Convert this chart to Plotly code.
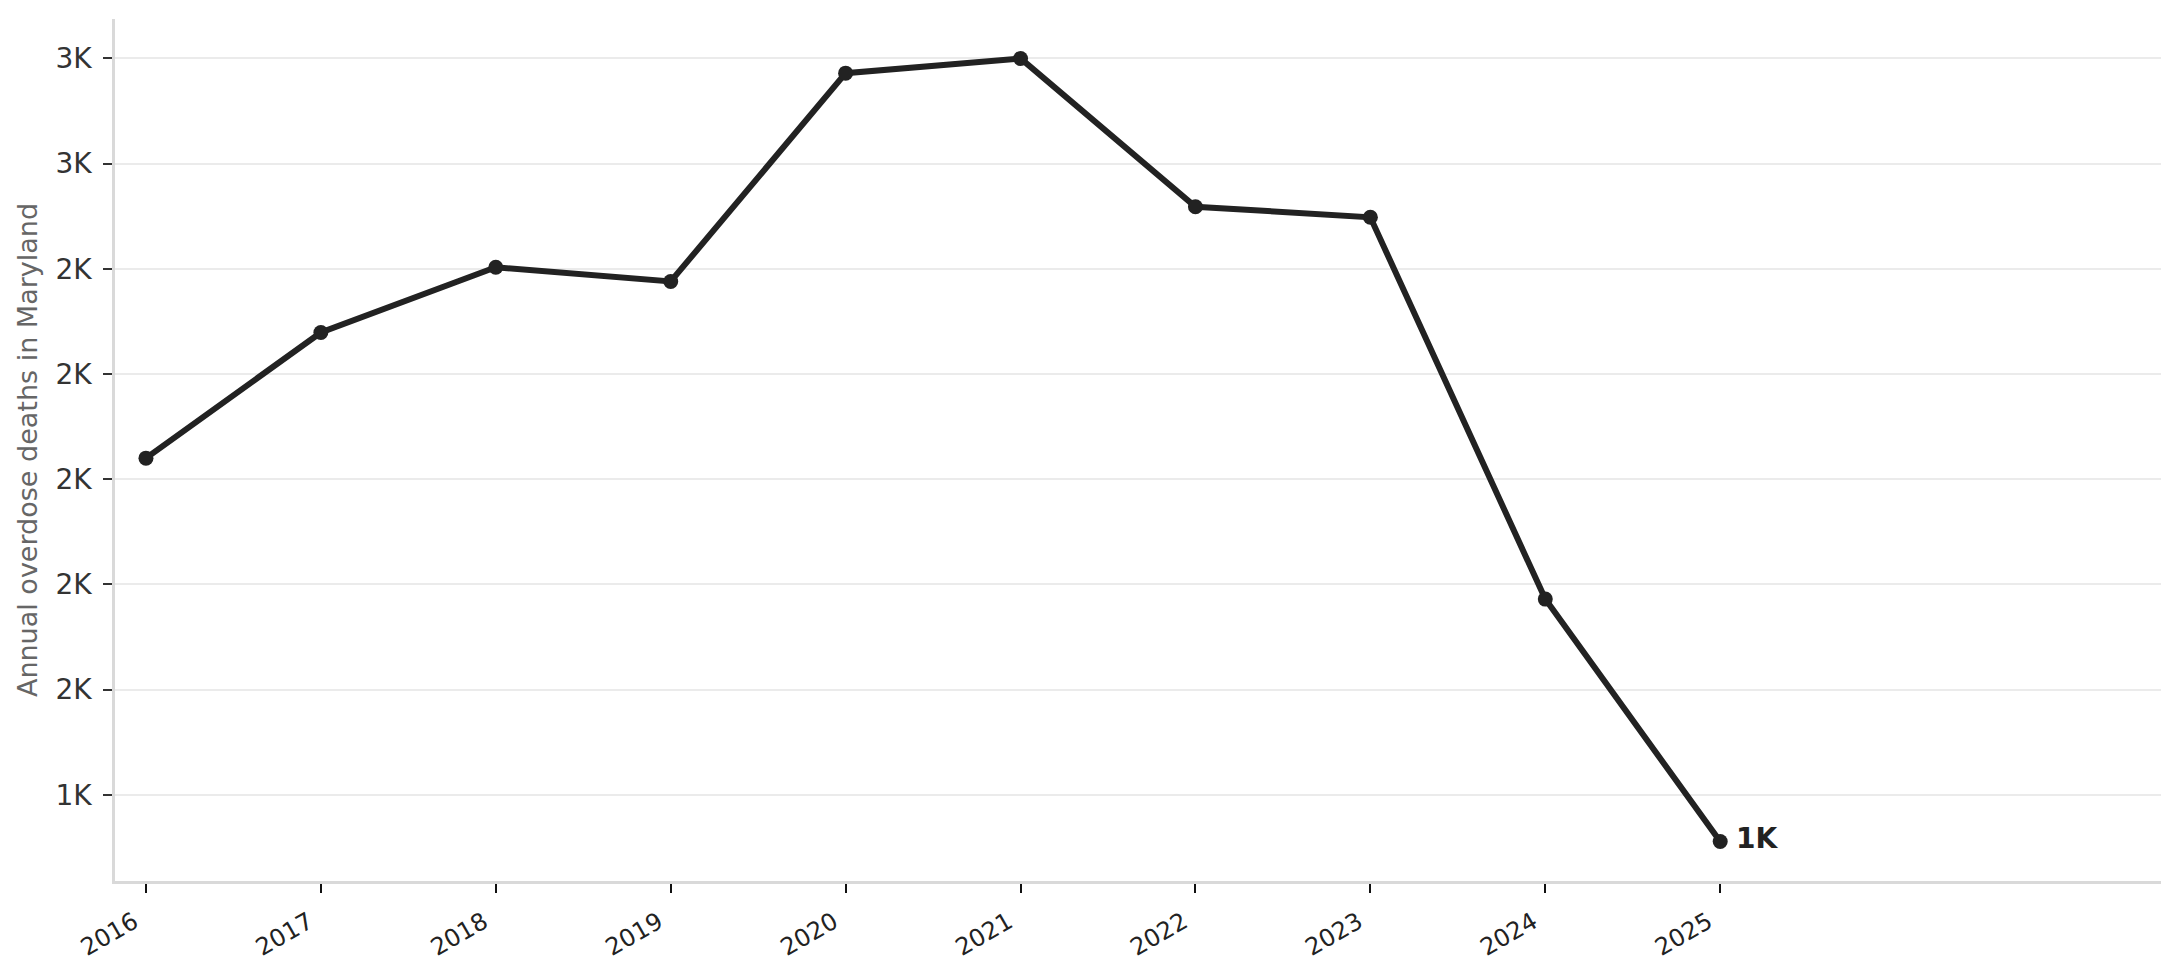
import plotly.graph_objects as go

# Maryland annual overdose deaths
years = [2016, 2017, 2018, 2019, 2020, 2021, 2022, 2023, 2024, 2025]
deaths = [2040, 2279, 2403, 2376, 2772, 2800, 2518, 2498, 1772, 1311]

y_tick_vals = [1400, 1600, 1800, 2000, 2200, 2400, 2600, 2800]
y_tick_text = ["1K", "2K", "2K", "2K", "2K", "2K", "3K", "3K"]
x_tick_vals = years
x_tick_text = [str(y) for y in years]

last_label = "1K"

INK = "#222222"
FONT = "DejaVu Sans"

fig = go.Figure()

fig.add_trace(go.Scatter(
    x=years, y=deaths,
    mode="lines+markers",
    line=dict(color=INK, width=6),
    marker=dict(color=INK, size=15),
    hoverinfo="x+y",
    showlegend=False,
))

# end-of-line value label
fig.add_annotation(
    x=years[-1], y=deaths[-1],
    text=f"<b>{last_label}</b>",
    showarrow=False,
    xanchor="left", yanchor="middle",
    xshift=14, yshift=3,
    font=dict(family=FONT, size=28, color=INK),
)

# the page body has an 8px margin, so the figure is a little smaller than the window
fig.update_layout(
    width=2163, height=964,
    paper_bgcolor="white", plot_bgcolor="white",
    margin=dict(l=107, r=10, t=11, b=81),
    font=dict(family=FONT, color="#333333"),
    showlegend=False,
)

fig.update_xaxes(
    range=[2015.823, 2027.52],
    tickvals=x_tick_vals, ticktext=x_tick_text,
    tickangle=-30,
    tickfont=dict(family=FONT, size=24, color=INK),
    ticks="outside", ticklen=9, tickwidth=2, tickcolor="#111111",
    ticklabelstandoff=6, ticklabelshift=-12,
    showgrid=False, zeroline=False,
    showline=True, linecolor="#d9d9d9", linewidth=2.5,
)

fig.update_yaxes(
    range=[1236, 2875],
    tickvals=y_tick_vals, ticktext=y_tick_text,
    tickfont=dict(family=FONT, size=28, color="#333333"),
    ticks="outside", ticklen=9, tickwidth=2, tickcolor="#333333",
    ticklabelstandoff=6,
    showgrid=True, gridcolor="#ebebeb", gridwidth=2,
    zeroline=False,
    showline=True, linecolor="#d9d9d9", linewidth=2.5,
    title=dict(text="Annual overdose deaths in Maryland",
               font=dict(family=FONT, size=27, color="#666666"),
               standoff=11),
)

fig.write_html("out.html")
